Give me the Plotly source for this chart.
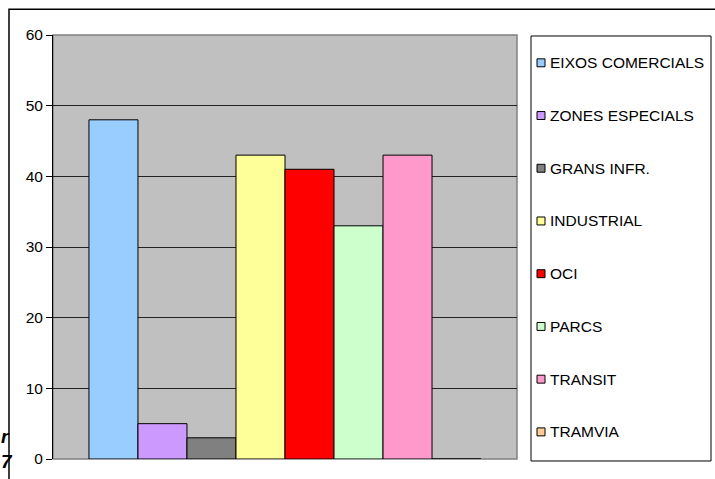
import plotly.graph_objects as go

categories = ["EIXOS COMERCIALS", "ZONES ESPECIALS", "GRANS INFR.", "INDUSTRIAL",
              "OCI", "PARCS", "TRANSIT", "TRAMVIA"]
values = [48, 5, 3, 43, 41, 33, 43, 0]
colors = ["#99CCFF", "#CC99FF", "#808080", "#FFFF99",
          "#FF0000", "#CCFFCC", "#FF99CC", "#FFCC99"]
y_ticks = [0, 10, 20, 30, 40, 50, 60]

W, H = 715, 479
L, R, T, B = 53, 198, 35, 17
pw, ph = W - L - R, H - T - B
FONT = "Liberation Sans, Arial"


def px(x):
    return (x - L) / pw


def py(y):
    return (H - B - y) / ph


fig = go.Figure()
for name, v, c in zip(categories, values, colors):
    fig.add_trace(go.Bar(
        x=[0], y=[v], name=name,
        marker=dict(color=c, line=dict(color="#000000", width=1)),
        showlegend=False, hoverinfo="name+y",
    ))

shapes = []
annotations = []

# outer chart frame
shapes.append(dict(type="rect", xref="paper", yref="paper",
                   x0=px(9), x1=px(W + 5), y0=py(H + 5), y1=py(9),
                   line=dict(color="#000000", width=1.5), layer="below"))

# plot area border
shapes.append(dict(type="rect", xref="paper", yref="paper",
                   x0=0, x1=1, y0=0, y1=1,
                   line=dict(color="#808080", width=1.5), layer="below"))

# legend box
lx0, lx1, ly0, ly1 = 531, 711, 36, 464
shapes.append(dict(type="rect", xref="paper", yref="paper",
                   x0=px(lx0), x1=px(lx1), y0=py(ly1), y1=py(ly0),
                   line=dict(color="#000000", width=1), fillcolor="#FFFFFF"))

first_y, step = 63, 53.1
for i, (name, c) in enumerate(zip(categories, colors)):
    cy = first_y + i * step
    shapes.append(dict(type="rect", xref="paper", yref="paper",
                       x0=px(537), x1=px(545), y0=py(cy + 4), y1=py(cy - 4),
                       line=dict(color="#000000", width=1), fillcolor=c))
    annotations.append(dict(xref="paper", yref="paper", x=px(548), y=py(cy),
                            text=name, showarrow=False, xanchor="left",
                            yanchor="middle",
                            font=dict(family=FONT, size=15.5, color="#000000")))

# glyphs at the lower left edge
annotations.append(dict(xref="paper", yref="paper", x=px(-1), y=py(439),
                        text="<b><i>r</i></b>", showarrow=False, xanchor="left",
                        yanchor="middle",
                        font=dict(family=FONT, size=19, color="#000")))
annotations.append(dict(xref="paper", yref="paper", x=px(-1), y=py(465),
                        text="<b><i>7</i></b>", showarrow=False, xanchor="left",
                        yanchor="middle",
                        font=dict(family=FONT, size=19, color="#000")))

fig.update_layout(
    width=W, height=H,
    margin=dict(l=L, r=R, t=T, b=B, pad=0),
    paper_bgcolor="#FFFFFF",
    plot_bgcolor="#C0C0C0",
    barmode="group",
    bargap=0.155,
    bargroupgap=0,
    showlegend=False,
    shapes=shapes,
    annotations=annotations,
    xaxis=dict(range=[-0.5, 0.5], showticklabels=False, showgrid=False,
               zeroline=False, showline=False, ticks="", fixedrange=True),
    yaxis=dict(range=[0, 60], tickvals=y_ticks, ticks="outside", ticklen=6,
               tickcolor="#000000", tickwidth=1,
               showline=True, linecolor="#000000", linewidth=1,
               showgrid=True, gridcolor="#222222", gridwidth=1,
               zeroline=False,
               tickfont=dict(family=FONT, size=15.5, color="#000000")),
)

fig.write_html("out.html")
